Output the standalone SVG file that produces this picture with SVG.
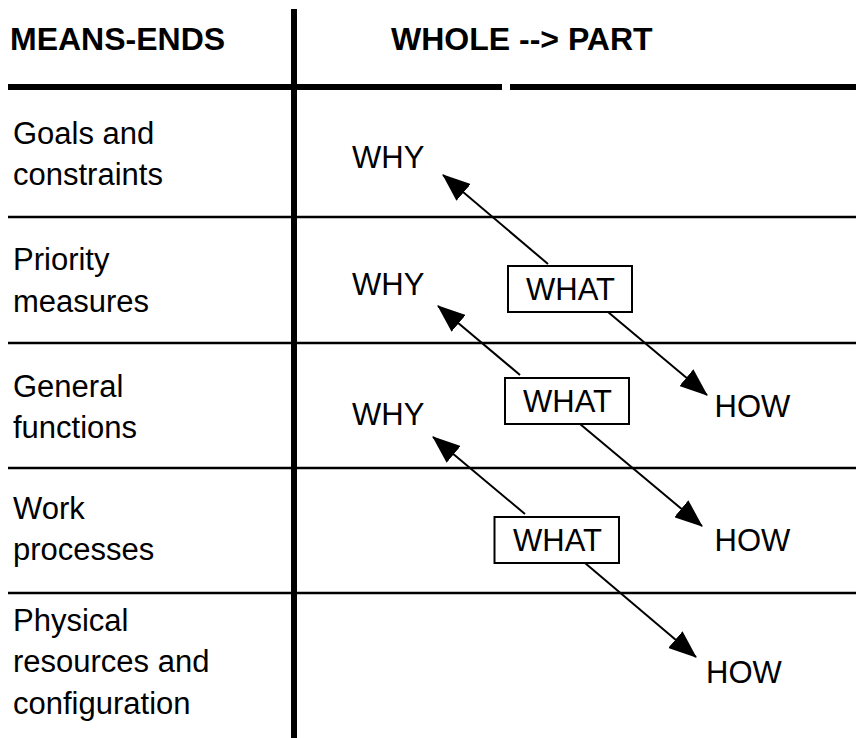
<svg xmlns="http://www.w3.org/2000/svg" width="856" height="738" viewBox="0 0 856 738">
<style>
  text { font-family: "Liberation Sans", Arial, sans-serif; font-size: 31px; fill: #000; }
  .hd { font-weight: bold; font-size: 32px; }
  .grid { stroke: #000; fill: none; }
  .box { fill: #fff; stroke: #000; stroke-width: 2; }
  .conn { stroke: #000; stroke-width: 2; fill: none; marker-end: url(#ah); }
</style>
<defs>
  <marker id="ah" viewBox="0 0 28 22" refX="27" refY="11" markerWidth="28" markerHeight="22" markerUnits="userSpaceOnUse" orient="auto">
    <path d="M0,0 L28,11 L0,22 Z" fill="#000"/>
  </marker>
</defs>
<rect width="856" height="738" fill="#fff"/>

<g id="grid">
  <line class="grid" x1="294" y1="9" x2="294" y2="738" stroke-width="6"/>
  <line class="grid" x1="8" y1="87" x2="502" y2="87" stroke-width="6"/>
  <line class="grid" x1="510" y1="87" x2="856" y2="87" stroke-width="6"/>
  <line class="grid" x1="8" y1="217" x2="856" y2="217" stroke-width="2.5"/>
  <line class="grid" x1="8" y1="343" x2="856" y2="343" stroke-width="2.5"/>
  <line class="grid" x1="8" y1="468" x2="856" y2="468" stroke-width="2.5"/>
  <line class="grid" x1="8" y1="593" x2="856" y2="593" stroke-width="2.5"/>
</g>

<g id="headers">
  <text class="hd" x="10" y="49.5">MEANS-ENDS</text>
  <text class="hd" x="391" y="49.5">WHOLE --&gt; PART</text>
</g>

<g id="levels">
  <text x="13" y="144">Goals and</text>
  <text x="13" y="185">constraints</text>
  <text x="13" y="270">Priority</text>
  <text x="13" y="312">measures</text>
  <text x="13" y="397">General</text>
  <text x="13" y="438">functions</text>
  <text x="13" y="519">Work</text>
  <text x="13" y="560">processes</text>
  <text x="13" y="631">Physical</text>
  <text x="13" y="672">resources and</text>
  <text x="13" y="714">configuration</text>
</g>

<g id="connectors">
  <line class="conn" x1="548" y1="264" x2="443" y2="175"/>
  <line class="conn" x1="608" y1="312" x2="707" y2="395"/>
  <line class="conn" x1="520" y1="375" x2="438" y2="306"/>
  <line class="conn" x1="580" y1="424" x2="702" y2="526"/>
  <line class="conn" x1="525" y1="514" x2="433" y2="437"/>
  <line class="conn" x1="585" y1="563" x2="696" y2="657"/>
</g>

<g id="why1"><text x="352" y="168">WHY</text></g>
<g id="why2"><text x="352" y="295">WHY</text></g>
<g id="why3"><text x="352" y="425">WHY</text></g>

<g id="what1">
  <rect class="box" x="508" y="266" width="124" height="46"/>
  <text x="526" y="300">WHAT</text>
</g>
<g id="what2">
  <rect class="box" x="505" y="378" width="124" height="46"/>
  <text x="523" y="412">WHAT</text>
</g>
<g id="what3">
  <rect class="box" x="494.5" y="517" width="124.5" height="46"/>
  <text x="513" y="551">WHAT</text>
</g>

<g id="how1"><text x="714.5" y="417">HOW</text></g>
<g id="how2"><text x="714.5" y="551">HOW</text></g>
<g id="how3"><text x="706" y="683">HOW</text></g>
</svg>
